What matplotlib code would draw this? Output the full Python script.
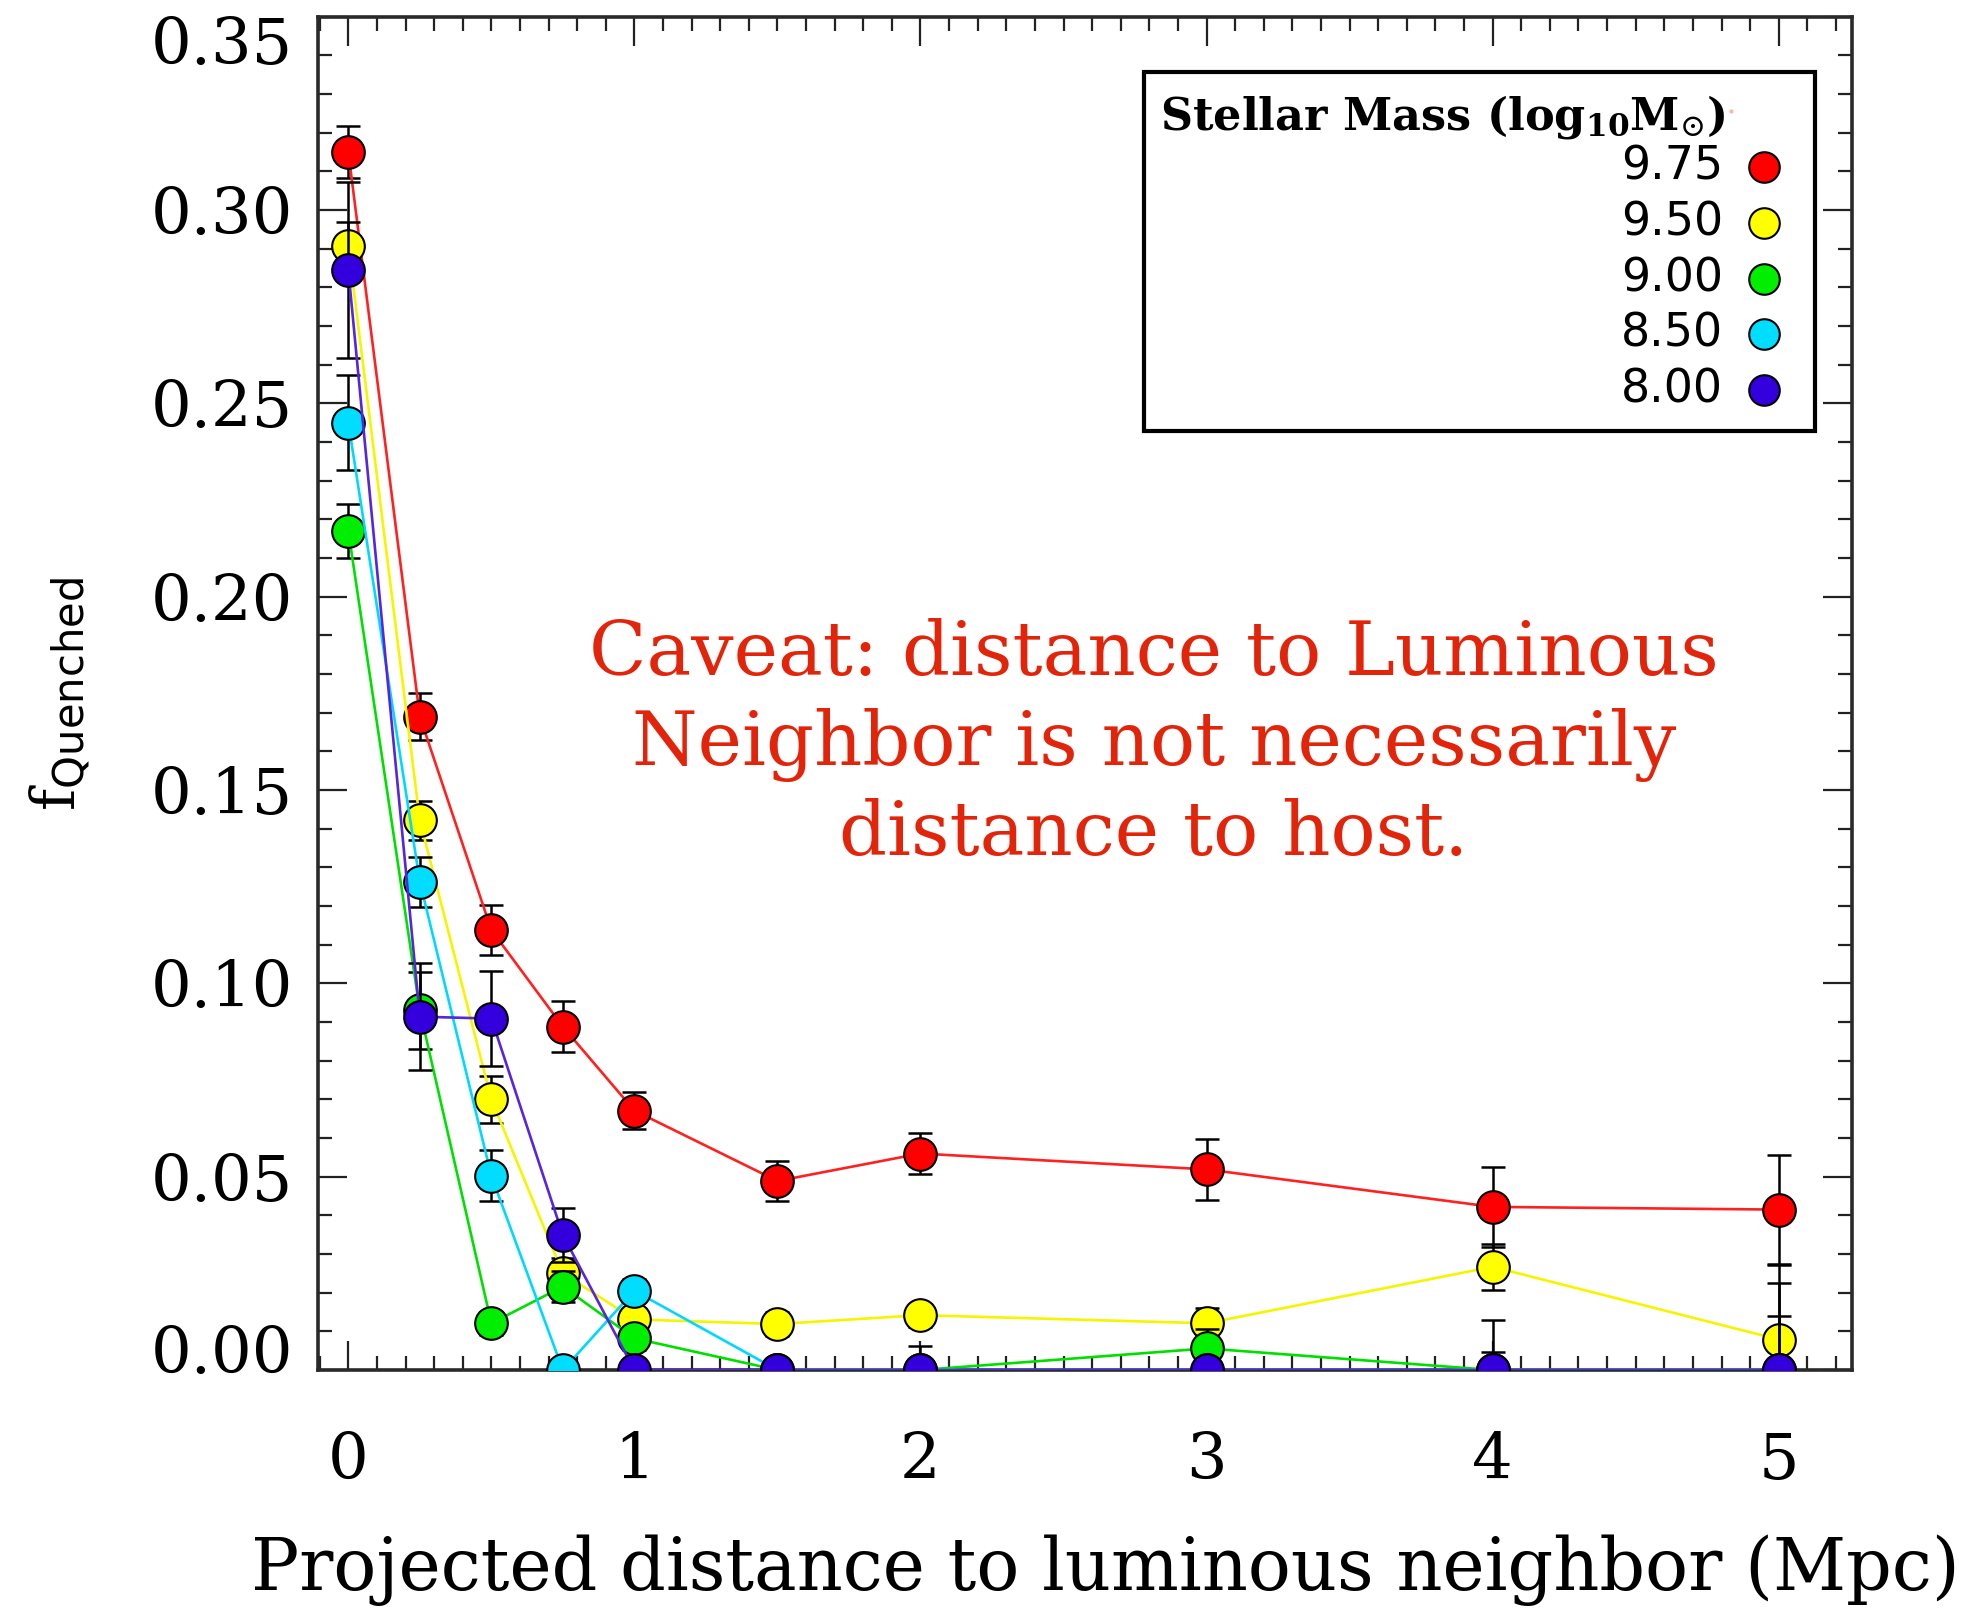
import matplotlib
matplotlib.use("Agg")
import matplotlib.pyplot as plt
import matplotlib.transforms as mtransforms
from matplotlib.ticker import MultipleLocator, FormatStrFormatter
from matplotlib.patches import Rectangle

plt.rcParams["mathtext.fontset"] = "dejavuserif"

# distance bins (Mpc)
dist = [0, 0.25, 0.5, 0.75, 1, 1.5, 2, 3, 4, 5]

# quenched fraction per stellar-mass bin, with 1-sigma errors
fq_975 = [0.315, 0.169, 0.1138, 0.0888, 0.0671, 0.0489, 0.0560, 0.0519, 0.0422, 0.0415]
err_975 = [0.0067, 0.0060, 0.0064, 0.0066, 0.0047, 0.0052, 0.0054, 0.0079, 0.0103, 0.0140]

fq_950 = [0.2907, 0.1422, 0.0700, 0.0250, 0.0131, 0.0119, 0.0142, 0.0121, 0.0267, 0.0079]
err_950 = [0.0063, 0.0050, 0.0060, 0.0040, 0.0030, 0.0030, 0.0030, 0.0040, 0.0060, 0.0060]

fq_900 = [0.2170, 0.0930, 0.0121, 0.0216, 0.0082, 0.0, 0.0, 0.0056, 0.0, 0.0]
err_900 = [0.0069, 0.0100, 0.0030, 0.0040, 0.0030, 0.0, 0.0, 0.0050, 0.0047, 0.0271]

fq_850 = [0.245, 0.1263, 0.0502, 0.0, 0.0205, 0.0, 0.0, 0.0, 0.0, 0.0]
err_850 = [0.0123, 0.0065, 0.0066, 0.0, 0.0030, 0.0, 0.0, 0.0, 0.0129, 0.0224]

fq_800 = [0.2845, 0.0914, 0.0909, 0.0349, 0.0, 0.0, 0.0, 0.0, 0.0, 0.0]
err_800 = [0.0228, 0.0138, 0.0122, 0.0069, 0.0, 0.0, 0.0063, 0.0, 0.0, 0.0]

mass_labels = ["9.75", "9.50", "9.00", "8.50", "8.00"]
series = [fq_975, fq_950, fq_900, fq_850, fq_800]
errors = [err_975, err_950, err_900, err_850, err_800]
face_colors = ["#ff0000", "#ffff00", "#00ee00", "#00ddff", "#3300dd"]
line_colors = ["#ff2020", "#f5f500", "#00e000", "#00d8ff", "#5525e0"]

fig = plt.figure(figsize=(19.72, 16.09), dpi=100)
ax = fig.add_axes([0.1614, 0.1485, 0.7776, 0.8411])

for i, (y, e) in enumerate(zip(series, errors)):
    z = 3 + i
    ax.errorbar(dist, y, yerr=e, fmt="none", ecolor="black", elinewidth=1.8,
                capsize=8.5, capthick=1.8, zorder=z)
    ax.plot(dist, y, color=line_colors[i], lw=1.9, zorder=z + 0.1)
    ax.plot(dist, y, ls="none", marker="o", ms=23.5, mfc=face_colors[i],
            mec="black", mew=1.5, zorder=z + 0.2)

ax.set_xlim(-0.105, 5.255)
ax.set_ylim(0, 0.35)
ax.xaxis.set_major_locator(MultipleLocator(1))
ax.xaxis.set_minor_locator(MultipleLocator(0.1))
ax.yaxis.set_major_locator(MultipleLocator(0.05))
ax.yaxis.set_minor_locator(MultipleLocator(0.01))
ax.yaxis.set_major_formatter(FormatStrFormatter("%.2f"))

ax.tick_params(which="both", direction="in", top=True, right=True,
               color="#222222", width=1.6)
ax.tick_params(which="major", length=21)
ax.tick_params(which="minor", length=10)
ax.tick_params(axis="x", which="major", pad=44)
ax.tick_params(axis="y", which="major", pad=18)
for lab in ax.get_xticklabels() + ax.get_yticklabels():
    lab.set_fontfamily("DejaVu Serif")
    lab.set_fontsize(46)
for sp in ax.spines.values():
    sp.set_linewidth(2.6)
    sp.set_color("#2a2a2a")

# keep the end labels of the y axis inside the frame
fig.canvas.draw()
yticks = ax.yaxis.get_major_ticks()
shift_up = mtransforms.ScaledTranslation(0, 15 / 72, fig.dpi_scale_trans)
shift_dn = mtransforms.ScaledTranslation(0, -17 / 72, fig.dpi_scale_trans)
for t in yticks:
    v = t.get_loc()
    if abs(v) < 1e-9:
        t.label1.set_transform(t.label1.get_transform() + shift_up)
    elif abs(v - 0.35) < 1e-9:
        t.label1.set_transform(t.label1.get_transform() + shift_dn)

# axis titles
fig.text(0.5606, 0.012, "Projected distance to luminous neighbor (Mpc)",
         family="DejaVu Serif", fontsize=51.5, ha="center", va="baseline")
fig.text(0.0304, 0.569, r"$\mathrm{f}_{\mathsf{Quenched}}$", fontsize=43,
         rotation=90, ha="center", va="center")

# legend box
ax.add_patch(Rectangle((0.5388, 0.6936), 0.4373, 0.2658, transform=ax.transAxes,
                       fill=True, facecolor="white", edgecolor="black",
                       lw=3, zorder=20))
ax.text(0.5486, 0.917, r"Stellar Mass (log$_{\mathbf{10}}$M$_{\odot}$)",
        transform=ax.transAxes, family="DejaVu Serif", weight="bold",
        fontsize=32, ha="left", va="baseline", zorder=21)
ax.plot([0.9210], [0.9305], ls="none", marker="o", ms=3, color="#ffb4b4",
        mec="none", transform=ax.transAxes, zorder=21, clip_on=False)
for i, lab in enumerate(mass_labels):
    yy = 0.8887 - 0.0411 * i
    ax.text(0.916, yy, lab, transform=ax.transAxes, family="DejaVu Sans",
            fontsize=33, ha="right", va="center", zorder=21)
    ax.plot([0.9431], [yy], ls="none", marker="o", ms=22, mfc=face_colors[i],
            mec="black", mew=1.5, transform=ax.transAxes, zorder=21,
            clip_on=False)

# note on the neighbour distance
fig.text(0.5852, 0.537,
         "Caveat: distance to Luminous\nNeighbor is not necessarily\ndistance to host.",
         family="DejaVu Serif", fontsize=54, color="#e2250a",
         ha="center", va="center", linespacing=1.29)

fig.savefig("out.png", dpi=100)
